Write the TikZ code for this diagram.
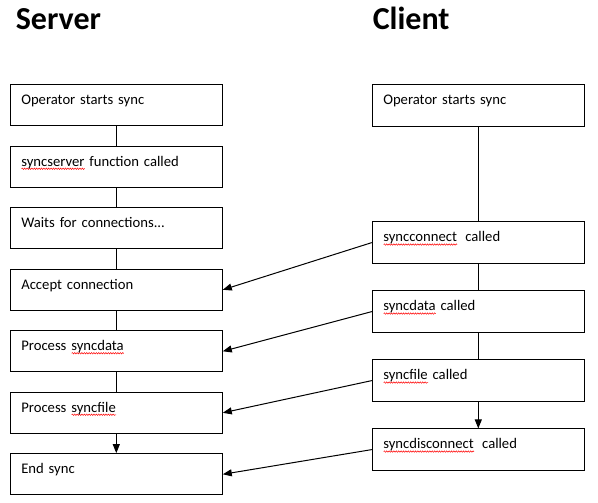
\documentclass[tikz,border=0pt]{standalone}
\usepackage{fontspec}
\setmainfont{Carlito}
\usepackage{xcolor}
\usetikzlibrary{positioning,arrows.meta,decorations.pathmorphing}

% red wavy spell-check underline
\newlength{\spellw}
\newcommand{\spell}[1]{\settowidth{\spellw}{#1}\rlap{\tikz[baseline=0pt]\draw[red, line width=0.5pt, decorate,
    decoration={snake, amplitude=0.7pt, segment length=2.4pt}] (0pt,-2.6pt) -- (\spellw,-2.6pt);}#1}

\begin{document}
\begin{tikzpicture}[
    x=1pt, y=-1pt,
    line width=1pt,
    node distance=19.2pt,
    box/.style={rectangle, draw, line width=1pt, text width=190pt, align=left, inner xsep=11pt, inner ysep=0pt,
                text height=20pt, text depth=21.3pt, font=\fontsize{14.67}{17}\selectfont},
    title/.style={anchor=base west, inner sep=0pt, font=\fontsize{32}{38}\selectfont\bfseries},
    msg/.style={-{Triangle[length=9pt,width=7pt]}}
]
    \useasboundingbox (0,0) rectangle (598,503);

    % Titles
    \node[title] (server) at (15.3,29.3) {Server};
    \node[title] (client) at (372.3,29.3) {Client};

    % Server
    \node[box] (s1) at (116.3,105.3) {Operator starts sync};
    \node[box, below=of s1] (s2) {\spell{syncserver} function called};
    \node[box, below=of s2] (s3) {Waits for connections...};
    \node[box, below=of s3] (s4) {Accept connection};
    \node[box, below=of s4] (s5) {Process \spell{syncdata}};
    \node[box, below=of s5] (s6) {Process \spell{syncfile}};
    \node[box, below=of s6] (s7) {End sync};

    \draw (s1) -- (s2);
    \draw (s2) -- (s3);
    \draw (s3) -- (s4);
    \draw (s4) -- (s5);
    \draw (s5) -- (s6);
    \draw[msg] (s6) -- (s7);

    % Client
    \node[box] (c1) at (478.3,105.5) {Operator starts sync};
    \node[box, below=94.8pt of c1] (c2) {\spell{syncconnect}\hspace{3.5pt} called};
    \node[box, below=26.7pt of c2] (c3) {\spell{syncdata} called};
    \node[box, below=26.7pt of c3] (c4) {\spell{syncfile} called};
    \node[box, below=26.7pt of c4] (c5) {\spell{syncdisconnect}\hspace{3.5pt} called};

    \draw (c1) -- (c2);
    \draw (c2) -- (c3);
    \draw (c3) -- (c4);
    \draw[msg] (c4) -- (c5);

    % Messages
    \draw[msg] (c2.west) -- (s4.east);
    \draw[msg] (c3.west) -- (s5.east);
    \draw[msg] (c4.west) -- (s6.east);
    \draw[msg] (c5.west) -- (s7.east);
\end{tikzpicture}
\end{document}
